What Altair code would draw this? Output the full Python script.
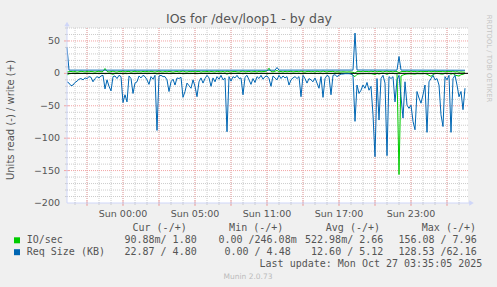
import altair as alt
import pandas as pd

# ---------------- data ----------------
STEP_MIN = 10  # one sample every 10 minutes

# IO/sec, read (drawn below zero) and write (drawn above zero)
io_read = [
    2.5, 0.6, 0.2, 0.1, 0.1, 0.3, 0.1, 0.1, 0.2, 0.1,
    0.1, 0.2, 0.1, 0.4, 0.1, 0.1, 0.2, 0.1, 0.1, 0.5,
    0.2, 0.1, 0.3, 1.5, 0.1, 0.1, 0.2, 0.1, 0.6, 0.3,
    0.5, 0.1, 0.1, 0.4, 0.2, 0.1, 0.1, 0.2, 0.1, 0.1,
    0.2, 0.3, 0.1, 0.1, 0.1, 1.0, 0.1, 0.1, 0.2, 0.1,
    0.1, 0.4, 0.2, 0.1, 0.3, 0.1, 0.1, 0.1, 0.5, 0.4,
    0.2, 0.3, 0.3, 0.1, 0.2, 0.5, 0.2, 0.1, 0.2, 0.1,
    0.1, 0.1, 0.3, 0.1, 0.2, 0.1, 0.1, 0.1, 0.2, 0.1,
    1.2, 0.1, 0.2, 0.1, 0.1, 0.1, 0.1, 0.1, 0.4, 0.1,
    0.1, 0.2, 0.3, 0.1, 0.2, 0.1, 0.1, 0.1, 0.1, 0.1,
    0.8, 0.2, 0.3, 0.1, 0.1, 0.2, 0.1, 0.1, 0.1, 0.1,
    0.1, 0.3, 0.2, 0.1, 0.1, 0.1, 0.1, 0.5, 0.1, 0.1,
    0.2, 0.1, 0.2, 0.2, 0.1, 0.2, 0.3, 0.1, 0.5, 0.1,
    0.1, 0.1, 0.4, 0.1, 0.0, 0.1, 0.0, 0.0, 0.0, 0.0,
    0.0, 0.0, 0.1, 3.0, 5.0, 1.5, 0.8, 0.6, 0.4, 0.5,
    0.3, 0.5, 0.4, 1.0, 1.8, 0.2, 1.0, 0.2, 0.1, 0.3,
    1.6, 0.1, 0.2, 0.1, 0.6, 0.2, 156.08, 4.0, 2.5, 1.5,
    0.9, 0.8, 0.7, 1.0, 1.2, 0.5, 0.6, 0.7, 0.5, 0.3,
    1.2, 3.0, 4.5, 2.0, 0.3, 0.2, 0.4, 1.0, 1.1, 0.1,
    0.2, 0.1, 1.2, 0.2, 2.5, 3.5, 4.0, 2.0, 1.5, 0.09,
]
io_write = [
    2.1, 2.6, 3.0, 2.4, 2.8, 1.9, 2.5, 3.2, 2.7, 2.2,
    2.9, 2.4, 3.1, 2.6, 2.0, 2.8, 3.3, 2.5, 2.9, 7.5,
    3.0, 2.2, 2.7, 3.4, 2.4, 2.1, 2.9, 2.6, 3.5, 2.3,
    2.8, 3.1, 2.0, 2.6, 3.3, 2.4, 2.7, 2.2, 3.0, 2.5,
    2.9, 2.3, 3.2, 2.6, 2.1, 2.8, 3.4, 2.5, 2.2, 2.9,
    2.4, 3.0, 2.7, 2.0, 2.6, 3.1, 2.3, 2.8, 3.6, 2.5,
    2.2, 2.9, 2.6, 3.2, 2.4, 2.8, 3.0, 2.1, 2.7, 2.5,
    3.1, 2.3, 2.9, 2.6, 2.2, 3.3, 2.7, 2.4, 2.9, 2.1,
    3.4, 2.6, 2.3, 2.8, 3.0, 2.5, 2.2, 2.9, 3.5, 2.4,
    2.7, 3.1, 2.3, 2.6, 2.9, 2.2, 3.2, 2.5, 2.8, 3.0,
    3.6, 7.96, 2.8, 2.4, 3.3, 4.5, 2.6, 2.9, 2.2, 3.1,
    2.5, 2.8, 3.2, 2.3, 2.7, 3.0, 2.4, 3.4, 2.6, 2.1,
    2.9, 3.1, 2.5, 2.8, 2.2, 3.3, 2.6, 2.4, 3.5, 2.7,
    2.3, 3.0, 2.8, 3.2, 2.1, 2.6, 2.4, 2.2, 2.5, 2.3,
    2.1, 2.4, 2.2, 1.6, 0.25, 2.9, 3.1, 2.6, 3.4, 2.8,
    3.0, 2.5, 3.3, 2.7, 3.6, 2.4, 3.1, 2.8, 2.2, 3.0,
    3.4, 2.6, 2.9, 2.3, 3.2, 2.7, 1.2, 2.5, 3.0, 2.8,
    3.3, 2.6, 3.5, 2.9, 3.1, 2.4, 2.8, 3.2, 2.6, 3.0,
    2.7, 3.4, 2.5, 2.9, 3.2, 2.6, 3.0, 2.8, 3.3, 2.4,
    2.9, 3.1, 2.6, 3.5, 2.2, 2.7, 1.9, 2.3, 2.0, 1.80,
]

# Req Size (KB), read (below zero)
req_read = [
    13, 15, 19, 18, 14, 12, 9, 8, 10, 7,
    8, 5, 6, 13, 8, 5, 7, 4, 3, 24,
    10, 20, 27, 5, 4, 8, 3, 5, 45, 33,
    44, 4, 8, 31, 15, 13, 4, 7, 3, 5,
    10, 17, 5, 9, 3, 88, 4, 3, 5, 5,
    10, 28, 13, 9, 18, 7, 8, 6, 37, 28,
    15, 19, 23, 10, 20, 36, 13, 7, 15, 8,
    3, 7, 20, 7, 13, 5, 9, 3, 10, 7,
    90, 5, 12, 5, 7, 3, 8, 7, 33, 6,
    3, 10, 17, 8, 14, 5, 8, 3, 9, 5,
    4, 8, 20, 4, 7, 10, 3, 8, 4, 7,
    5, 18, 10, 7, 5, 8, 5, 36, 3, 8,
    15, 8, 10, 13, 7, 15, 23, 5, 37, 8,
    3, 5, 33, 3, 2, 5, 3, 1, 1, 0.5,
    0.5, 0.5, 1, 3, 74, 18, 31, 26, 18, 23,
    14, 26, 20, 64, 128.53, 8, 72, 8, 3, 15,
    127, 5, 8, 5, 44, 10, 3, 36, 69, 13,
    49, 54, 49, 74, 87, 28, 38, 46, 33, 18,
    91, 13, 8, 3, 10, 8, 18, 64, 82, 5,
    10, 3, 91, 8, 3, 18, 36, 28, 56, 22.87,
]
# Req Size (KB), write (above zero): sample index -> value where it changes
req_write_idx = [0, 1, 104, 105, 106, 143, 144, 145, 165, 166, 167, 199]
req_write_val = [40, 5.0, 4.9, 9.0, 5.0, 5.1, 62.16, 5.2, 5.0, 26.0, 5.1, 4.80]

x_label_hours = [4.667, 10.667, 16.667, 22.667, 28.667]
x_label_text = ["Sun 00:00", "Sun 05:00", "Sun 11:00", "Sun 17:00", "Sun 23:00"]
y_ticks = [-200, -150, -100, -50, 0, 50]

title_text = "IOs for /dev/loop1 - by day"
y_title = "Units read (-) / write (+)"
legend_headers = ["Cur (-/+)", "Min (-/+)", "Avg (-/+)", "Max (-/+)"]
legend_names = ["IO/sec", "Req Size (KB)"]
legend_colors = ["#00CC00", "#0066B3"]
legend_stats = [
    ["90.88m/ 1.80", "0.00 /246.08m", "522.98m/ 2.66", "156.08 / 7.96"],
    ["22.87 / 4.80", "0.00 / 4.48", "12.60 / 5.12", "128.53 /62.16"],
]
last_update = "Last update: Mon Oct 27 03:35:05 2025"
footer = "Munin 2.0.73"
side_text = "RRDTOOL / TOBI OETIKER"

# ---------------- layout ----------------
W, H = 401, 175
X_MAX = W / 12.0
xs = alt.Scale(domain=[0, X_MAX], nice=False, zero=False)
ys = alt.Scale(domain=[-200, 70], nice=False, zero=False)

SANS = "DejaVu Sans"
MONO = "DejaVu Sans Mono"
TXT = "#555555"
AXIS_C = "#CFD6F8"
GRID_C = "#CCCCCC"
MGRID_C = "#F2A4A4"

minor_h = [0.667 + k for k in range(33)]
major_h = [1.667 + 3 * k for k in range(11)]
minor_v = [v for v in range(-190, 71, 10) if v % 50 != 0]
major_v = [-150, -100, -50, 0, 50]

hours = [i * STEP_MIN / 60 for i in range(len(req_read))]
io_df = pd.DataFrame({"h": hours, "read": io_read, "write": io_write})
req_df = pd.DataFrame({"h": hours, "read": req_read})
reqw_df = pd.DataFrame({"h": [i * STEP_MIN / 60 for i in req_write_idx], "write": req_write_val})

layers = []

def hgrid(vals, color):
    return alt.Chart(pd.DataFrame({"v": vals})).mark_rule(
        color=color, strokeDash=[1, 1], strokeWidth=1
    ).encode(y=alt.Y("v:Q", scale=ys, axis=None))

def vgrid(vals, color):
    return alt.Chart(pd.DataFrame({"h": vals})).mark_rule(
        color=color, strokeDash=[1, 1], strokeWidth=1
    ).encode(x=alt.X("h:Q", scale=xs, axis=None))

layers += [hgrid(minor_v, GRID_C), vgrid(minor_h, GRID_C),
           hgrid(major_v, MGRID_C), vgrid(major_h, MGRID_C)]

# tick marks crossing the axes
layers.append(alt.Chart(pd.DataFrame({"h": minor_h})).mark_rule(color=GRID_C).encode(
    x=alt.X("h:Q", scale=xs, axis=None), y=alt.value(H - 1), y2=alt.value(H + 2)))
layers.append(alt.Chart(pd.DataFrame({"h": major_h})).mark_rule(color=MGRID_C).encode(
    x=alt.X("h:Q", scale=xs, axis=None), y=alt.value(H - 2), y2=alt.value(H + 3)))
layers.append(alt.Chart(pd.DataFrame({"v": minor_v})).mark_rule(color=GRID_C).encode(
    y=alt.Y("v:Q", scale=ys, axis=None), x=alt.value(-2), x2=alt.value(1)))
layers.append(alt.Chart(pd.DataFrame({"v": major_v})).mark_rule(color=MGRID_C).encode(
    y=alt.Y("v:Q", scale=ys, axis=None), x=alt.value(-3), x2=alt.value(2)))

line_kw = dict(strokeWidth=1, strokeJoin="bevel", interpolate="linear")

# green IO/sec
layers.append(alt.Chart(io_df).transform_calculate(neg="-datum.read").mark_line(
    color=legend_colors[0], **line_kw).encode(
    x=alt.X("h:Q", scale=xs, axis=None), y=alt.Y("neg:Q", scale=ys, axis=None)))
layers.append(alt.Chart(io_df).mark_line(color=legend_colors[0], **line_kw).encode(
    x=alt.X("h:Q", scale=xs, axis=None), y=alt.Y("write:Q", scale=ys, axis=None)))

# zero line
layers.append(alt.Chart(pd.DataFrame({"v": [0]})).mark_rule(color="black", strokeWidth=1).encode(
    y=alt.Y("v:Q", scale=ys, axis=None)))

# blue Req Size
layers.append(alt.Chart(req_df).transform_calculate(neg="-datum.read").mark_line(
    color=legend_colors[1], **line_kw).encode(
    x=alt.X("h:Q", scale=xs, axis=None), y=alt.Y("neg:Q", scale=ys, axis=None)))
layers.append(alt.Chart(reqw_df).mark_line(color=legend_colors[1], **line_kw).encode(
    x=alt.X("h:Q", scale=xs, axis=None), y=alt.Y("write:Q", scale=ys, axis=None)))

# axes lines + arrows
one = pd.DataFrame({"a": [0]})
layers.append(alt.Chart(one).mark_rule(color=AXIS_C).encode(
    x=alt.value(0), y=alt.value(-3), y2=alt.value(H)))
layers.append(alt.Chart(one).mark_rule(color=AXIS_C).encode(
    x=alt.value(0), x2=alt.value(W + 2), y=alt.value(H)))
layers.append(alt.Chart(one).mark_point(shape="triangle-up", filled=True, size=28,
                                        color=AXIS_C, opacity=1).encode(
    x=alt.value(0), y=alt.value(-4)))
layers.append(alt.Chart(one).mark_point(shape="triangle-right", filled=True, size=28,
                                        color=AXIS_C, opacity=1).encode(
    x=alt.value(W + 3.5), y=alt.value(H)))

# x labels
layers.append(alt.Chart(pd.DataFrame({"h": x_label_hours, "t": x_label_text})).mark_text(
    font=SANS, fontSize=9.5, color=TXT, baseline="alphabetic", align="center").encode(
    x=alt.X("h:Q", scale=xs, axis=None), y=alt.value(H + 13.5), text="t:N"))

# y labels
layers.append(alt.Chart(pd.DataFrame({"v": y_ticks})).transform_calculate(
    t="format(datum.v, 'd')").mark_text(
    font=SANS, fontSize=9.5, color=TXT, baseline="middle", align="right").encode(
    y=alt.Y("v:Q", scale=ys, axis=None), x=alt.value(-7), text="t:N"))

def txt(s, x, y, **kw):
    return alt.Chart(pd.DataFrame({"t": [s]})).mark_text(**kw).encode(
        x=alt.value(x), y=alt.value(y), text="t:N")

layers.append(txt(y_title, -56, 92, font=SANS, fontSize=10, color=TXT,
                  align="center", baseline="middle", angle=270))
layers.append(txt(title_text, 182, -5, font=SANS, fontSize=12.5, color=TXT,
                  align="center", baseline="alphabetic"))

hdr_right = [119.7, 216.3, 313, 409]
for s, xr in zip(legend_headers, hdr_right):
    layers.append(txt(s, xr, 203, font=MONO, fontSize=10, color=TXT,
                      align="right", baseline="alphabetic"))

stat_right = [[129.7, 229.7, 316.3, 409.7], [129.7, 223.7, 316.3, 409.7]]
row_base = [215, 227]
sq_y = [212.3, 224.2]
for r in range(2):
    layers.append(alt.Chart(one).mark_point(shape="square", filled=True, size=36,
                                            color=legend_colors[r], opacity=1).encode(
        x=alt.value(-50), y=alt.value(sq_y[r])))
    layers.append(txt(legend_names[r], -40.3, row_base[r], font=MONO, fontSize=10,
                      color=TXT, align="left", baseline="alphabetic"))
    for s, xr in zip(legend_stats[r], stat_right[r]):
        layers.append(txt(s, xr, row_base[r], font=MONO, fontSize=10, color=TXT,
                          align="right", baseline="alphabetic"))

layers.append(txt(last_update, 415.3, 239, font=MONO, fontSize=10, color=TXT,
                  align="right", baseline="alphabetic"))
layers.append(txt(footer, 181, 251, font=SANS, fontSize=7.5, color="#BBBBBB",
                  align="center", baseline="alphabetic"))
layers.append(txt(side_text, 421.5, 30.5, font=SANS, fontSize=6.8, color="#C4C4C4",
                  align="center", baseline="middle", angle=90))

chart = alt.layer(*layers).properties(
    width=W, height=H,
    padding={"left": 67, "top": 28, "right": 29, "bottom": 84},
    autosize=alt.AutoSizeParams(type="none"),
    background="#F0F0F0",
).configure_view(fill="white", stroke=None)

chart.save("out.html", embed_options={"renderer": "svg", "actions": False})
